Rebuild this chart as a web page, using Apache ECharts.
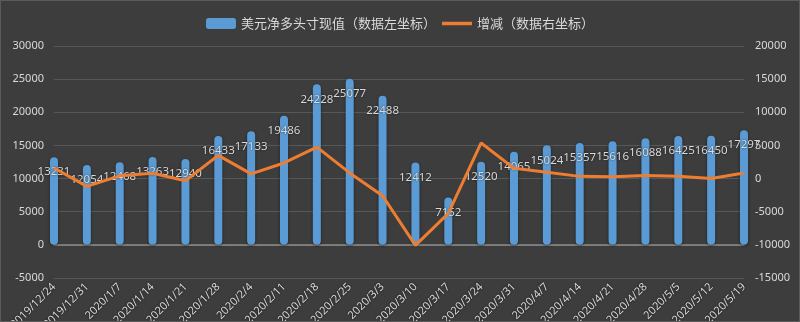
<!DOCTYPE html>
<html>
<head>
<meta charset="utf-8">
<script src="https://cdn.jsdelivr.net/npm/echarts@6/dist/echarts.min.js"></script>
<style>
html,body{margin:0;padding:0;background:#3d3d3d;}
#c{width:798px;height:320px;border:1px solid #5a5a5a;}
</style>
</head>
<body>
<div id="c"></div>
<script>
const categories = ['2019/12/24','2019/12/31','2020/1/7','2020/1/14','2020/1/21','2020/1/28','2020/2/4','2020/2/11','2020/2/18','2020/2/25','2020/3/3','2020/3/10','2020/3/17','2020/3/24','2020/3/31','2020/4/7','2020/4/14','2020/4/21','2020/4/28','2020/5/5','2020/5/12','2020/5/19'];
const netLong = [13231, 12054, 12468, 13263, 12940, 16433, 17133, 19486, 24228, 25077, 22488, 12412, 7152, 12520, 14065, 15024, 15357, 15616, 16088, 16425, 16450, 17297];
const change = [1600, -1177, 414, 795, -323, 3493, 700, 2353, 4742, 849, -2589, -10076, -5260, 5368, 1545, 959, 333, 259, 472, 337, 25, 847];
const barName = '美元净多头寸现值（数据左坐标）';
const lineName = '增减（数据右坐标）';

const txt = '#d9d9d9';
const chart = echarts.init(document.getElementById('c'));
chart.setOption({
  backgroundColor: '#3d3d3d',
  animation: false,
  legend: {
    top: 11,
    left: 'center',
    itemWidth: 30,
    itemHeight: 11,
    itemGap: 6,
    textStyle: { color: txt, fontSize: 13, fontFamily: 'Noto Sans CJK SC' },
    data: [
      { name: barName, icon: 'roundRect' },
      { name: lineName, icon: 'path://M0,0 H30 V3.5 H0 Z' }
    ]
  },
  grid: { left: 53, right: 55, top: 45, bottom: 43, containLabel: false, outerBoundsMode: 'none' },
  xAxis: {
    type: 'category',
    data: categories,
    boundaryGap: false,
    axisLine: { onZero: true, onZeroAxisIndex: 0, lineStyle: { color: '#8c8c8c', width: 1.5 } },
    axisTick: { show: false },
    axisLabel: { interval: 0, rotate: 45, color: txt, fontSize: 11, fontFamily: 'Noto Sans', margin: 7,
      textShadowColor: 'rgba(0,0,0,0.8)', textShadowBlur: 2 },
    splitLine: { show: false }
  },
  yAxis: [
    {
      type: 'value', min: -5000, max: 30000, interval: 5000,
      axisLine: { show: false }, axisTick: { show: false },
      axisLabel: { color: txt, fontSize: 11, fontFamily: 'Noto Sans', margin: 10, formatter: v => String(v) },
      splitLine: { lineStyle: { color: '#585858', width: 1 } }
    },
    {
      type: 'value', min: -15000, max: 20000, interval: 5000,
      axisLine: { show: false }, axisTick: { show: false },
      axisLabel: { color: txt, fontSize: 11, fontFamily: 'Noto Sans', margin: 11, formatter: v => String(v) },
      splitLine: { show: false }
    }
  ],
  series: [
    {
      name: barName,
      type: 'bar',
      yAxisIndex: 0,
      data: netLong,
      barWidth: 8,
      itemStyle: {
        color: '#5b9bd5',
        borderRadius: 4,
        shadowColor: 'rgba(0,0,0,0.5)', shadowBlur: 3, shadowOffsetY: 1
      },
      label: {
        show: true, position: 'insideTop', distance: 9,
        color: txt, fontSize: 11.5, fontFamily: 'Noto Sans',
        textShadowColor: 'rgba(0,0,0,0.7)', textShadowBlur: 2
      },
      z: 2
    },
    {
      name: lineName,
      type: 'line',
      yAxisIndex: 1,
      data: change,
      symbol: 'none',
      lineStyle: { color: '#ed7d31', width: 3 },
      itemStyle: { color: '#ed7d31' },
      z: 3
    }
  ]
});
</script>
</body>
</html>
